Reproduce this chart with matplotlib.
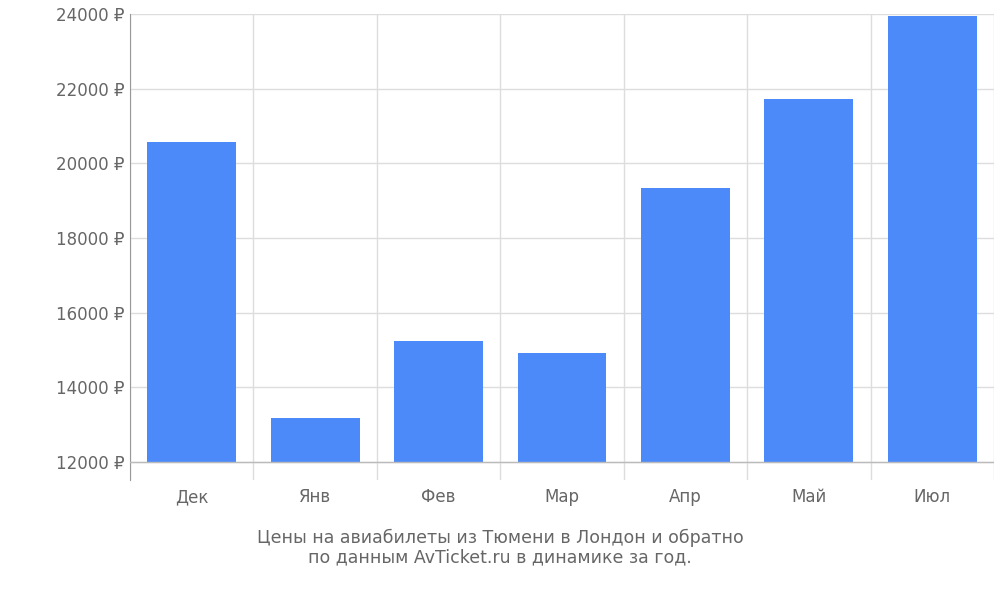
import matplotlib
matplotlib.use("Agg")
import matplotlib.pyplot as plt
import numpy as np

months = ["Дек", "Янв", "Фев", "Мар", "Апр", "Май", "Июл"]
prices = [20570, 13180, 15240, 14920, 19340, 21720, 23950]
yticks = [12000, 14000, 16000, 18000, 20000, 22000, 24000]

fig = plt.figure(figsize=(10, 6), dpi=100)
ax = fig.add_axes([0.13, 0.2, 0.864, 0.7767])
x = np.arange(len(months))
ax.bar(x, np.array(prices) - 12000, bottom=12000, width=0.72, color="#4d8af9", zorder=3)
ax.set_xlim(-0.5, len(months) - 0.5)
ax.set_ylim(11518, 24000)
for b in np.arange(-0.5, len(months), 1):
    ax.axvline(b, color="#dddddd", lw=1, zorder=1)
for t in yticks:
    ax.axhline(t, color="#dddddd", lw=1, zorder=1)
ax.axhline(12000, color="#bbbbbb", lw=1, zorder=4)
for s in ["top", "right", "bottom"]:
    ax.spines[s].set_visible(False)
ax.spines["left"].set_color("#999999")
ax.set_yticks(yticks)
ax.set_yticklabels([f"{t} ₽" for t in yticks], color="#666666", fontsize=12)
ax.set_xticks(x)
ax.set_xticklabels(months, color="#666666", fontsize=12)
ax.tick_params(axis="x", length=0, pad=6)
ax.tick_params(axis="y", length=0, pad=4)
fig.text(0.5, 0.087, "Цены на авиабилеты из Тюмени в Лондон и обратно\nпо данным AvTicket.ru в динамике за год.",
         ha="center", va="center", color="#666666", fontsize=12.5, linespacing=1.1)
fig.savefig("out.png", dpi=100)
